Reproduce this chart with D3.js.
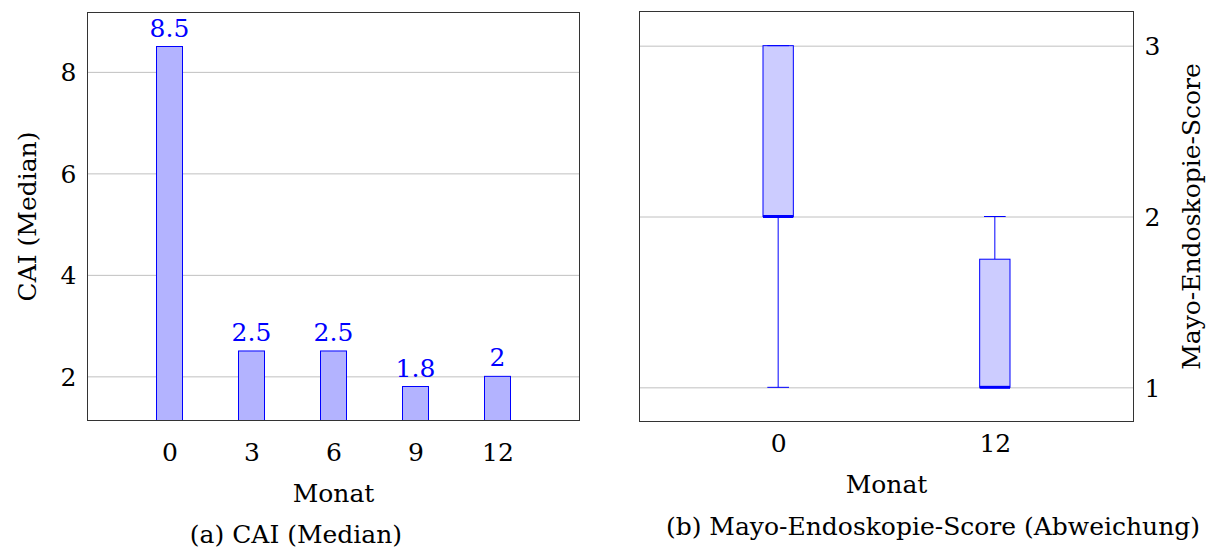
<!DOCTYPE html>
<html>
<head>
<meta charset="utf-8">
<script src="https://cdn.jsdelivr.net/npm/d3@7"></script>
<style>
  html, body { margin: 0; padding: 0; background: #fff; }
  svg text { font-family: "DejaVu Serif", "Liberation Serif", serif; }
</style>
</head>
<body>
<script>
// ---- Data: (a) CAI (Median) ----
const caiMonths = [0, 3, 6, 9, 12];
const caiValues = [8.5, 2.5, 2.5, 1.8, 2];
const caiValueLabels = ["8.5", "2.5", "2.5", "1.8", "2"];
const caiYTicks = [2, 4, 6, 8];
const caiXTicks = [0, 3, 6, 9, 12];

// ---- Data: (b) Mayo-Endoskopie-Score (Abweichung) ----
const mayoCategories = ["0", "12"];
const mayoLowerWhisker = [1, 1];
const mayoLowerQuartile = [2, 1];
const mayoMedian = [2, 1];
const mayoUpperQuartile = [3, 1.75];
const mayoUpperWhisker = [3, 2];
const mayoYTicks = [1, 2, 3];

// ---- Text ----
const caiYLabel = "CAI (Median)";
const xLabel = "Monat";
const caiCaption = "(a) CAI (Median)";
const mayoYLabel = "Mayo-Endoskopie-Score";
const mayoCaption = "(b) Mayo-Endoskopie-Score (Abweichung)";

const W = 1212, H = 560;
const FS = 25;
const blue = "#0000ff";
const gridColor = "#c0c0c0";
const frameColor = "#333333";

const svg = d3.select("body").append("svg")
  .attr("width", W).attr("height", H)
  .attr("viewBox", `0 0 ${W} ${H}`);

function styleText(s) {
  s.selectAll("text").attr("font-size", FS).attr("font-family", null).attr("fill", "#000");
}

// ================= Chart (a) =================
{
  const L = 87.5, R = 579.5, T = 12.5, B = 420.5;
  const vmin = d3.min(caiValues), vmax = d3.max(caiValues);
  const pad = (vmax - vmin) * 0.1;
  const x = d3.scaleLinear().domain([-3, 15]).range([L, R]);
  const y = d3.scaleLinear().domain([vmin - pad, vmax + pad]).range([B, T]);
  const g = svg.append("g");

  // grid
  g.append("g").attr("transform", `translate(${L},0)`)
    .call(d3.axisLeft(y).tickValues(caiYTicks).tickSize(-(R - L)).tickFormat(""))
    .call(s => s.select(".domain").remove())
    .call(s => s.selectAll("line").attr("stroke", gridColor).attr("stroke-width", 1));

  // bars
  const bw = 26;
  g.selectAll("rect.bar").data(caiMonths).join("rect")
    .attr("class", "bar")
    .attr("x", d => x(d) - bw / 2)
    .attr("y", (d, i) => y(caiValues[i]))
    .attr("width", bw)
    .attr("height", (d, i) => y.range()[0] - y(caiValues[i]))
    .attr("fill", "#b3b3ff")
    .attr("stroke", blue)
    .attr("stroke-width", 1);

  // value labels
  g.selectAll("text.val").data(caiMonths).join("text")
    .attr("class", "val")
    .attr("x", d => x(d))
    .attr("y", (d, i) => y(caiValues[i]) - 10)
    .attr("text-anchor", "middle")
    .attr("font-size", FS)
    .attr("fill", blue)
    .text((d, i) => caiValueLabels[i]);

  // frame
  g.append("rect").attr("x", L).attr("y", T).attr("width", R - L).attr("height", B - T)
    .attr("fill", "none").attr("stroke", frameColor).attr("stroke-width", 1);

  // y axis labels
  g.append("g").attr("transform", `translate(${L},0)`)
    .call(d3.axisLeft(y).tickValues(caiYTicks).tickSize(0).tickPadding(11).tickFormat(d3.format("d")))
    .call(s => s.select(".domain").remove())
    .attr("font-family", null)
    .call(styleText)
    .call(s => s.selectAll("text").attr("dy", "0.36em"));

  // x axis labels
  g.append("g").attr("transform", `translate(0,${B})`)
    .call(d3.axisBottom(x).tickValues(caiXTicks).tickSize(0).tickPadding(0).tickFormat(d3.format("d")))
    .call(s => s.select(".domain").remove())
    .attr("font-family", null)
    .call(styleText)
    .call(s => s.selectAll("text").attr("dy", null).attr("y", 461 - B));

  g.append("text").attr("x", (L + R) / 2).attr("y", 502).attr("text-anchor", "middle")
    .attr("font-size", FS).text(xLabel);
  g.append("text").attr("transform", `translate(36,${(T + B) / 2}) rotate(-90)`)
    .attr("text-anchor", "middle").attr("font-size", FS).text(caiYLabel);
  g.append("text").attr("x", 296).attr("y", 543).attr("text-anchor", "middle")
    .attr("font-size", FS).text(caiCaption);
}

// ================= Chart (b) =================
{
  const L = 639.5, R = 1133.5, T = 11.5, B = 421.5;
  const x = d3.scaleLinear().domain([0.36, 2.64]).range([L, R]);
  const y = d3.scaleLinear().domain([0.8, 3.2]).range([B, T]);
  const pos = mayoCategories.map((c, i) => i + 1);
  const g = svg.append("g");

  g.append("g").attr("transform", `translate(${L},0)`)
    .call(d3.axisLeft(y).tickValues(mayoYTicks).tickSize(-(R - L)).tickFormat(""))
    .call(s => s.select(".domain").remove())
    .call(s => s.selectAll("line").attr("stroke", gridColor).attr("stroke-width", 1));

  const boxW = x(1.14) - x(1);
  const capW = x(1.1) - x(1);

  pos.forEach((p, i) => {
    const cx = x(p);
    const bx = g.append("g");
    // whiskers
    bx.append("line").attr("x1", cx).attr("x2", cx)
      .attr("y1", y(mayoLowerQuartile[i])).attr("y2", y(mayoLowerWhisker[i]))
      .attr("stroke", blue).attr("stroke-width", 1);
    bx.append("line").attr("x1", cx).attr("x2", cx)
      .attr("y1", y(mayoUpperQuartile[i])).attr("y2", y(mayoUpperWhisker[i]))
      .attr("stroke", blue).attr("stroke-width", 1);
    // box
    bx.append("rect")
      .attr("x", cx - boxW / 2).attr("width", boxW)
      .attr("y", y(mayoUpperQuartile[i]))
      .attr("height", y(mayoLowerQuartile[i]) - y(mayoUpperQuartile[i]))
      .attr("fill", "#ccccff").attr("stroke", blue).attr("stroke-width", 1);
    // caps
    [mayoLowerWhisker[i], mayoUpperWhisker[i]].forEach(v => {
      bx.append("line").attr("x1", cx - capW / 2).attr("x2", cx + capW / 2)
        .attr("y1", y(v)).attr("y2", y(v))
        .attr("stroke", blue).attr("stroke-width", 1);
    });
    // median
    bx.append("line").attr("x1", cx - boxW / 2).attr("x2", cx + boxW / 2)
      .attr("y1", y(mayoMedian[i])).attr("y2", y(mayoMedian[i]))
      .attr("stroke", blue).attr("stroke-width", 3);
  });

  g.append("rect").attr("x", L).attr("y", T).attr("width", R - L).attr("height", B - T)
    .attr("fill", "none").attr("stroke", frameColor).attr("stroke-width", 1);

  // right y axis labels
  g.append("g").attr("transform", `translate(${R},0)`)
    .call(d3.axisRight(y).tickValues(mayoYTicks).tickSize(0).tickPadding(11).tickFormat(d3.format("d")))
    .call(s => s.select(".domain").remove())
    .attr("font-family", null)
    .call(styleText)
    .call(s => s.selectAll("text").attr("dy", "0.36em"));

  // x axis labels
  g.append("g").attr("transform", `translate(0,${B})`)
    .call(d3.axisBottom(x).tickValues(pos).tickSize(0).tickFormat((d, i) => mayoCategories[i]))
    .call(s => s.select(".domain").remove())
    .attr("font-family", null)
    .call(styleText)
    .call(s => s.selectAll("text").attr("dy", null).attr("y", 452 - B));

  g.append("text").attr("x", (L + R) / 2).attr("y", 493).attr("text-anchor", "middle")
    .attr("font-size", FS).text(xLabel);
  g.append("text").attr("transform", `translate(1200,${(T + B) / 2}) rotate(-90)`)
    .attr("text-anchor", "middle").attr("font-size", FS).text(mayoYLabel);
  g.append("text").attr("x", 933).attr("y", 535).attr("text-anchor", "middle")
    .attr("font-size", FS).text(mayoCaption);
}
</script>
</body>
</html>
